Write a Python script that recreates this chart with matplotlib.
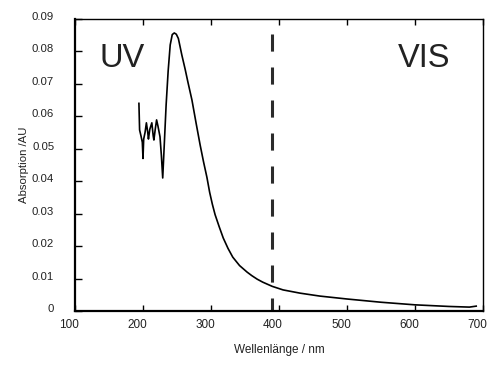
import matplotlib
matplotlib.use("Agg")
import matplotlib.pyplot as plt
import matplotlib.transforms as mtransforms

# spectrum
wavelength = [194, 195, 197, 199, 200, 201, 203, 205, 207, 208, 210, 213, 215, 216,
              218, 220, 222, 225, 227, 229, 231, 234, 237, 240, 243, 246, 249, 252,
              257, 262, 266, 272, 278, 284, 289, 294, 298, 302, 306, 312, 318, 325,
              332, 342, 353, 360, 368, 376, 390, 406, 431, 460, 500, 550, 600, 650,
              680, 690]
absorption = [0.064, 0.0558, 0.054, 0.052, 0.047, 0.053, 0.055, 0.058, 0.055, 0.053,
              0.056, 0.058, 0.054, 0.0527, 0.056, 0.0589, 0.057, 0.0537, 0.048, 0.041,
              0.050, 0.0635, 0.074, 0.082, 0.0852, 0.0857, 0.0853, 0.0840, 0.079, 0.0745,
              0.0706, 0.065, 0.058, 0.0512, 0.046, 0.0412, 0.0366, 0.0329, 0.0297, 0.026,
              0.0225, 0.0193, 0.0166, 0.0140, 0.0120, 0.0109, 0.0098, 0.0089, 0.0076,
              0.0065, 0.0055, 0.0046, 0.0037, 0.0027, 0.0019, 0.0014, 0.0012, 0.0015]

uv_vis_border = 390
border_top = 0.0854
xticks = [100, 200, 300, 400, 500, 600, 700]
yticks = [0, 0.01, 0.02, 0.03, 0.04, 0.05, 0.06, 0.07, 0.08, 0.09]
ytick_labels = ["0", "0.01", "0.02", "0.03", "0.04", "0.05", "0.06", "0.07", "0.08", "0.09"]

plt.rcParams['font.family'] = ['Liberation Sans', 'DejaVu Sans']

fig = plt.figure(figsize=(4.91, 3.65), dpi=100)
fig.patch.set_facecolor('white')
ax = fig.add_axes([75 / 491, 54 / 365, 408 / 491, 292 / 365])

ax.plot(wavelength, absorption, color='black', lw=1.2, solid_joinstyle='round')
ax.plot([uv_vis_border, uv_vis_border], [border_top, 0], color='#2b2b2b', lw=2.2,
        dashes=(5.6, 5.2))

ax.text(99 / 491, 1 - 67 / 365, "UV", transform=fig.transFigure, fontsize=23.5,
        color='#222222', va='baseline', ha='left')
ax.text(450 / 491, 1 - 67 / 365, "VIS", transform=fig.transFigure, fontsize=23.5,
        color='#222222', va='baseline', ha='right')

ax.set_xlim(100, 700)
ax.set_ylim(0, 0.09)
ax.set_xticks(xticks)
ax.set_yticks(yticks)
ax.set_yticklabels(ytick_labels)
ax.tick_params(axis='x', direction='in', length=4, width=1, pad=6, labelsize=8.5,
               top=True, labelcolor='#222222')
ax.tick_params(axis='y', direction='in', length=5, width=1, pad=15, labelsize=8.2,
               labelcolor='#222222')
ax.set_xlabel("Wellenlänge / nm", fontsize=8.5, color='#222222', labelpad=9)
ax.set_ylabel("Absorption /AU", fontsize=8.2, color='#222222', labelpad=2)

for side in ['left', 'bottom']:
    ax.spines[side].set_linewidth(1.6)
for side in ['top', 'right']:
    ax.spines[side].set_linewidth(1.0)

# labels in the reference sit a little off their ticks
shift_x = mtransforms.ScaledTranslation(-6 / 100, 0, fig.dpi_scale_trans)
for lab in ax.get_xticklabels():
    lab.set_transform(lab.get_transform() + shift_x)
shift_y = mtransforms.ScaledTranslation(0, 3 / 100, fig.dpi_scale_trans)
for lab in ax.get_yticklabels():
    lab.set_transform(lab.get_transform() + shift_y)

plt.savefig("out.png", dpi=100)
